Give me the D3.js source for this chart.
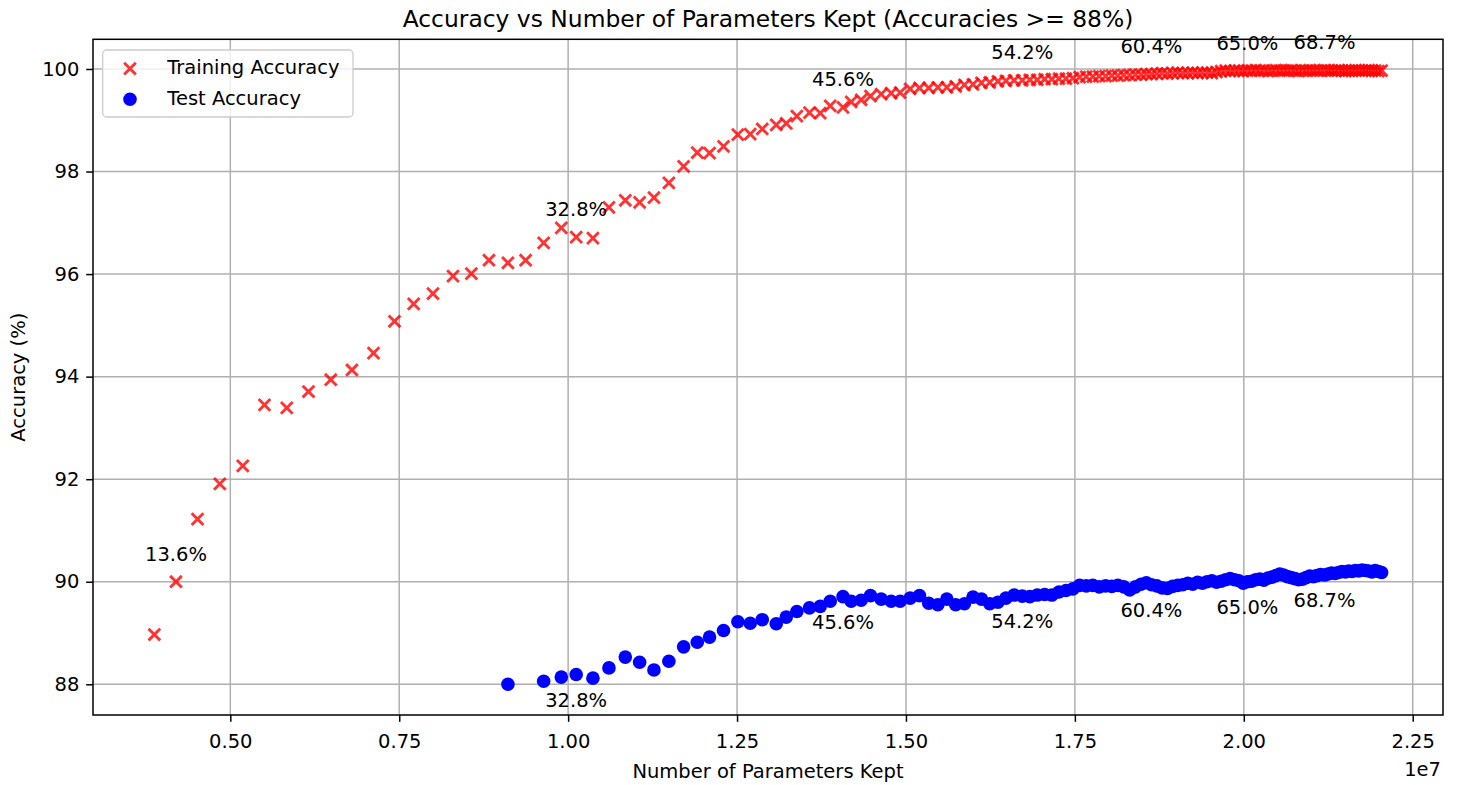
<!DOCTYPE html>
<html>
<head>
<meta charset="utf-8">
<script src="https://cdn.jsdelivr.net/npm/d3@7"></script>
<style>
  body { margin: 0; background: #fff; }
  text { font-family: "DejaVu Sans", sans-serif; fill: #000; }
  .tick text { font-size: 19.5px; font-family: "DejaVu Sans", sans-serif; }
  .tick line { stroke: #000; stroke-width: 1.5; }
  .grid line { stroke: #b0b0b0; stroke-width: 1.5; }
</style>
</head>
<body>
<div id="acc-params-div"></div>
<script>
// number of parameters kept, in units of 1e7 (the axis offset)
var paramsKept = [
  0.3876, 0.4196, 0.4515, 0.4845, 0.5185, 0.5506, 0.5836, 0.6157, 0.6487, 0.6800,
  0.7120, 0.7430, 0.7714, 0.8000, 0.8296, 0.8568, 0.8828, 0.9109, 0.9371, 0.9638,
  0.9899, 1.0119, 1.0367, 1.0604, 1.0846, 1.1058, 1.1270, 1.1491, 1.1709, 1.1911,
  1.2093, 1.2300, 1.2512, 1.2695, 1.2873, 1.3080, 1.3228, 1.3385, 1.3572, 1.3731,
  1.3879, 1.4068, 1.4189, 1.4337, 1.4475, 1.4633, 1.4781, 1.4914, 1.5062, 1.5200,
  1.5337, 1.5472, 1.5605, 1.5736, 1.5865, 1.5992, 1.6117, 1.6240, 1.6361, 1.6480,
  1.6601, 1.6721, 1.6833, 1.6943, 1.7052, 1.7159, 1.7264, 1.7368, 1.7470, 1.7570,
  1.7668, 1.7765, 1.7860, 1.7954, 1.8046, 1.8136, 1.8224, 1.8311, 1.8396, 1.8479,
  1.8558, 1.8633, 1.8712, 1.8791, 1.8869, 1.8946, 1.9022, 1.9097, 1.9171, 1.9244,
  1.9316, 1.9387, 1.9457, 1.9527, 1.9596, 1.9664, 1.9731, 1.9797, 1.9863, 1.9928,
  1.9991, 2.0053, 2.0115, 2.0176, 2.0237, 2.0297, 2.0357, 2.0416, 2.0474, 2.0532,
  2.0589, 2.0646, 2.0702, 2.0758, 2.0813, 2.0868, 2.0922, 2.0976, 2.1030, 2.1083,
  2.1136, 2.1194, 2.1247, 2.1299, 2.1351, 2.1402, 2.1453, 2.1503, 2.1553, 2.1603,
  2.1653, 2.1702, 2.1751, 2.1800, 2.1848, 2.1896, 2.1944, 2.1992, 2.2040
];

var trainAcc = [
  88.97, 90.00, 91.22, 91.91, 92.26, 93.45, 93.39, 93.71, 93.94, 94.13,
  94.46, 95.08, 95.42, 95.62, 95.96, 96.01, 96.27, 96.22, 96.27, 96.61,
  96.90, 96.72, 96.70, 97.30, 97.44, 97.40, 97.49, 97.78, 98.10, 98.37,
  98.36, 98.49, 98.72, 98.73, 98.83, 98.91, 98.94, 99.08, 99.15, 99.14,
  99.28, 99.25, 99.36, 99.40, 99.47, 99.51, 99.53, 99.54, 99.61, 99.63,
  99.63, 99.64, 99.64, 99.66, 99.69, 99.70, 99.73, 99.74, 99.76, 99.77,
  99.78, 99.78, 99.79, 99.79, 99.80, 99.80, 99.81, 99.81, 99.82, 99.84,
  99.85, 99.85, 99.86, 99.86, 99.87, 99.87, 99.88, 99.88, 99.89, 99.89,
  99.90, 99.90, 99.91, 99.92, 99.91, 99.92, 99.93, 99.92, 99.92, 99.93,
  99.92, 99.93, 99.93, 99.92, 99.94, 99.96, 99.97, 99.96, 99.97, 99.97,
  99.96, 99.97, 99.97, 99.98, 99.97, 99.97, 99.96, 99.97, 99.98, 99.97,
  99.97, 99.97, 99.98, 99.97, 99.96, 99.97, 99.97, 99.98, 99.97, 99.97,
  99.97, 99.98, 99.97, 99.97, 99.97, 99.98, 99.97, 99.96, 99.97, 99.97,
  99.98, 99.97, 99.97, 99.97, 99.98, 99.97, 99.97, 99.96, 99.97
];

// null = test accuracy below 88%, not shown
var testAcc = [
  null, null, null, null, null, null, null, null, null, null,
  null, null, null, null, null, null, null, 88.00, null, 88.06,
  88.14, 88.19, 88.12, 88.32, 88.53, 88.43, 88.28, 88.45, 88.73, 88.82,
  88.92, 89.05, 89.22, 89.19, 89.26, 89.18, 89.31, 89.42, 89.49, 89.52,
  89.62, 89.71, 89.62, 89.64, 89.73, 89.66, 89.62, 89.62, 89.68, 89.73,
  89.58, 89.55, 89.66, 89.55, 89.57, 89.70, 89.66, 89.57, 89.60, 89.68,
  89.74, 89.72, 89.71, 89.74, 89.75, 89.74, 89.80, 89.83, 89.86, 89.93,
  89.92, 89.93, 89.90, 89.92, 89.91, 89.93, 89.90, 89.84, 89.90, 89.95,
  89.98, 89.94, 89.92, 89.88, 89.87, 89.91, 89.93, 89.94, 89.97, 89.95,
  89.99, 89.97, 90.00, 90.02, 89.99, 90.01, 90.04, 90.06, 90.04, 90.02,
  89.97, 90.00, 90.01, 90.04, 90.05, 90.03, 90.07, 90.09, 90.12, 90.15,
  90.13, 90.10, 90.08, 90.06, 90.04, 90.05, 90.08, 90.11, 90.10, 90.12,
  90.14, 90.13, 90.15, 90.17, 90.16, 90.18, 90.20, 90.19, 90.21, 90.20,
  90.22, 90.21, 90.23, 90.22, 90.21, 90.19, 90.22, 90.20, 90.18
];

// annotated points (every 20th) and their labels (% of parameters kept)
var annotIdx = [1, 21, 41, 61, 81, 101, 121];
var annotText = ["13.6%", "32.8%", "45.6%", "54.2%", "60.4%", "65.0%", "68.7%"];

var xTicks = [0.50, 0.75, 1.00, 1.25, 1.50, 1.75, 2.00, 2.25];
var yTicks = [88, 90, 92, 94, 96, 98, 100];

var margin = {top: 39.3, right: 14, bottom: 70, left: 93},
    width = 1457 - margin.left - margin.right,
    height = 785 - margin.top - margin.bottom;

var svg = d3.select("#acc-params-div")
  .append("svg")
    .attr("width", width + margin.left + margin.right)
    .attr("height", height + margin.top + margin.bottom)
  .append("g")
    .attr("transform", "translate(" + margin.left + "," + margin.top + ")");

// matplotlib style 5% margins around the data
function padded(ext) {
  var d = ext[1] - ext[0];
  return [ext[0] - 0.05 * d, ext[1] + 0.05 * d];
}

var x = d3.scaleLinear()
  .domain(padded(d3.extent(paramsKept)))
  .range([0, width]);

var allAcc = trainAcc.concat(testAcc.filter((v) => v !== null));
var y = d3.scaleLinear()
  .domain(padded(d3.extent(allAcc)))
  .range([height, 0]);

// grid
svg.append("g")
  .attr("class", "grid")
  .selectAll("line")
  .data(xTicks)
  .enter()
    .append("line")
    .attr("x1", (d) => x(d)).attr("x2", (d) => x(d))
    .attr("y1", 0).attr("y2", height);

svg.append("g")
  .attr("class", "grid")
  .selectAll("line")
  .data(yTicks)
  .enter()
    .append("line")
    .attr("y1", (d) => y(d)).attr("y2", (d) => y(d))
    .attr("x1", 0).attr("x2", width);

// axes
var xAxis = svg.append("g")
  .attr("transform", "translate(0," + height + ")")
  .call(d3.axisBottom(x)
    .tickValues(xTicks)
    .tickFormat((d) => d.toFixed(2))
    .tickSize(6.8)
    .tickPadding(12.4));
xAxis.select(".domain").remove();
xAxis.selectAll(".tick text").attr("fill", "#000");

var yAxis = svg.append("g")
  .call(d3.axisLeft(y)
    .tickValues(yTicks)
    .tickSize(6.8)
    .tickPadding(6.8));
yAxis.select(".domain").remove();
yAxis.selectAll(".tick text").attr("fill", "#000");

// training accuracy: x markers
var half = 5.85;
svg.append("g")
  .selectAll("path")
  .data(paramsKept.map((p, i) => ({p: p, a: trainAcc[i]})))
  .enter()
    .append("path")
    .attr("transform", (d) => "translate(" + x(d.p) + "," + y(d.a) + ")")
    .attr("d", "M" + (-half) + "," + (-half) + "L" + half + "," + half +
               "M" + (-half) + "," + half + "L" + half + "," + (-half))
    .attr("fill", "none")
    .attr("stroke", "red")
    .attr("stroke-width", 2.9)
    .attr("opacity", 0.8);

// test accuracy: circles
svg.append("g")
  .selectAll("circle")
  .data(paramsKept.map((p, i) => ({p: p, a: testAcc[i]})).filter((d) => d.a !== null))
  .enter()
    .append("circle")
    .attr("cx", (d) => x(d.p))
    .attr("cy", (d) => y(d.a))
    .attr("r", 6.8)
    .attr("fill", "#0000ff");

// annotations
annotIdx.forEach((idx, k) => {
  svg.append("text")
    .attr("x", x(paramsKept[idx]))
    .attr("y", y(trainAcc[idx]) - 21)
    .style("text-anchor", "middle")
    .style("font-size", "19.5px")
    .text(annotText[k]);
  if (testAcc[idx] !== null) {
    svg.append("text")
      .attr("x", x(paramsKept[idx]))
      .attr("y", y(testAcc[idx]) + 32)
      .style("text-anchor", "middle")
      .style("font-size", "19.5px")
      .text(annotText[k]);
  }
});

// spines
svg.append("rect")
  .attr("width", width)
  .attr("height", height)
  .attr("fill", "none")
  .attr("stroke", "#000")
  .attr("stroke-width", 1.5);

// offset text for the x axis
svg.append("text")
  .attr("x", width - 2)
  .attr("y", height + 61)
  .style("text-anchor", "end")
  .style("font-size", "19.5px")
  .text("1e7");

// axis labels and title
svg.append("text")
  .attr("x", width / 2)
  .attr("y", height + 63)
  .style("text-anchor", "middle")
  .style("font-size", "19.5px")
  .text("Number of Parameters Kept");

svg.append("text")
  .attr("transform", "translate(" + (25 - margin.left) + "," + (height / 2) + ") rotate(-90)")
  .style("text-anchor", "middle")
  .style("font-size", "19.5px")
  .text("Accuracy (%)");

svg.append("text")
  .attr("x", width / 2)
  .attr("y", 27 - margin.top)
  .style("text-anchor", "middle")
  .style("font-size", "23.4px")
  .text("Accuracy vs Number of Parameters Kept (Accuracies >= 88%)");

// legend
var legend = svg.append("g")
  .attr("transform", "translate(9.7,10.7)");

legend.append("rect")
  .attr("width", 250.3)
  .attr("height", 67)
  .attr("rx", 4)
  .attr("fill", "#fff")
  .attr("fill-opacity", 0.8)
  .attr("stroke", "#cccccc")
  .attr("stroke-width", 1.3);

legend.append("path")
  .attr("transform", "translate(27.3,18.6)")
  .attr("d", "M" + (-half) + "," + (-half) + "L" + half + "," + half +
             "M" + (-half) + "," + half + "L" + half + "," + (-half))
  .attr("fill", "none")
  .attr("stroke", "red")
  .attr("stroke-width", 2.9)
  .attr("opacity", 0.8);

legend.append("circle")
  .attr("cx", 27.3)
  .attr("cy", 49.3)
  .attr("r", 6.8)
  .attr("fill", "#0000ff");

legend.append("text")
  .attr("x", 64.6)
  .attr("y", 23.6)
  .style("font-size", "19.5px")
  .text("Training Accuracy");

legend.append("text")
  .attr("x", 64.6)
  .attr("y", 54.6)
  .style("font-size", "19.5px")
  .text("Test Accuracy");
</script>
</body>
</html>
